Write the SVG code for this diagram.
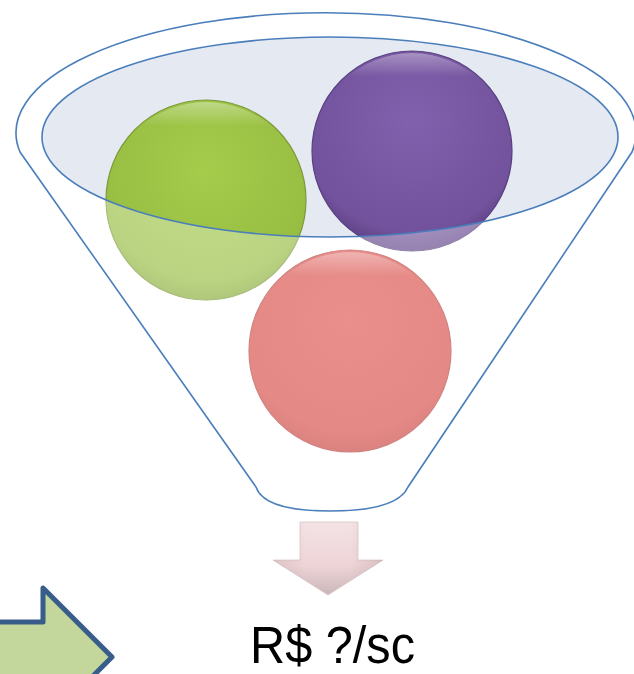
<svg xmlns="http://www.w3.org/2000/svg" width="634" height="674" viewBox="0 0 634 674">
<style>
.ln{fill:none;stroke:#4a7ebb;stroke-width:1.6}
.ball{stroke-width:1.2}
.lbl{font-family:"Liberation Sans",Arial,sans-serif;font-size:51px;fill:#000}
</style>
<defs>
<radialGradient id="gG" cx="0.5" cy="0.35" r="0.65">
<stop offset="0" stop-color="#a6cc4c"/><stop offset="0.85" stop-color="#97bd42"/><stop offset="1" stop-color="#86ab36"/>
</radialGradient>
<radialGradient id="gP" cx="0.5" cy="0.35" r="0.65">
<stop offset="0" stop-color="#8160ad"/><stop offset="0.85" stop-color="#72529c"/><stop offset="1" stop-color="#5e4286"/>
</radialGradient>
<radialGradient id="gR" cx="0.5" cy="0.35" r="0.65">
<stop offset="0" stop-color="#df554f"/><stop offset="0.85" stop-color="#d74c47"/><stop offset="1" stop-color="#c8423e"/>
</radialGradient>
<linearGradient id="hl" x1="0" y1="0" x2="0" y2="1">
<stop offset="0" stop-color="#fff" stop-opacity="0.35"/><stop offset="0.12" stop-color="#fff" stop-opacity="0"/>
</linearGradient>
<linearGradient id="arr" x1="0" y1="0" x2="0" y2="1">
<stop offset="0" stop-color="#f3e3e5"/><stop offset="0.6" stop-color="#efd4d7"/><stop offset="1" stop-color="#c9b6b8"/>
</linearGradient>
<linearGradient id="arrS" x1="0" y1="0" x2="1" y2="0">
<stop offset="0" stop-color="#000" stop-opacity="0.08"/><stop offset="0.3" stop-color="#000" stop-opacity="0"/><stop offset="0.7" stop-color="#000" stop-opacity="0"/><stop offset="1" stop-color="#000" stop-opacity="0.1"/>
</linearGradient>
</defs>
<g id="funnel-back">
<ellipse cx="330" cy="137" rx="288" ry="100" fill="#e4e9f2"/>
</g>
<g id="ball-green">
<circle class="ball" cx="206" cy="200" r="100" fill="url(#gG)" stroke="#7c9a3a"/>
<circle cx="206" cy="200" r="98" fill="url(#hl)"/>
</g>
<g id="ball-purple">
<circle class="ball" cx="412" cy="151" r="100" fill="url(#gP)" stroke="#5a4080"/>
<circle cx="412" cy="151" r="98" fill="url(#hl)"/>
</g>
<g id="ball-pink">
<circle class="ball" cx="350" cy="351" r="101" fill="url(#gR)" stroke="#b84440"/>
<circle cx="350" cy="351" r="99" fill="url(#hl)"/>
</g>
<g id="funnel">
<path fill="#fff" fill-opacity="0.34" fill-rule="evenodd" d="M 20 152 A 310 120 0 1 1 632 152 L 408 487 C 400 505 370 511 330 511 C 290 511 262 505 256 487 Z M 42 137 A 288 100 0 1 0 618 137 A 288 100 0 1 0 42 137 Z"/>
<path class="ln" d="M 20 152 A 310 120 0 1 1 632 152 L 408 487 C 400 505 370 511 330 511 C 290 511 262 505 256 487 Z"/>
<ellipse class="ln" cx="330" cy="137" rx="288" ry="100"/>
</g>
<g id="down-arrow">
<path d="M 300 522 L 358 522 L 358 560 L 383 560 L 328 595 L 273 560 L 300 560 Z" fill="url(#arr)" stroke="#d9c4c6" stroke-width="0.8"/>
<path d="M 300 522 L 358 522 L 358 560 L 383 560 L 328 595 L 273 560 L 300 560 Z" fill="url(#arrS)"/>
</g>
<g id="label">
<text class="lbl" x="250" y="663" textLength="165" lengthAdjust="spacingAndGlyphs">R$ ?/sc</text>
</g>
<g id="right-arrow">
<path d="M -10 622 L 43 622 L 43 588 L 112 657 L 43 726 L 43 692 L -10 692 Z" fill="#c3d69b" stroke="#385d8a" stroke-width="5" stroke-linejoin="round"/>
</g>
</svg>
